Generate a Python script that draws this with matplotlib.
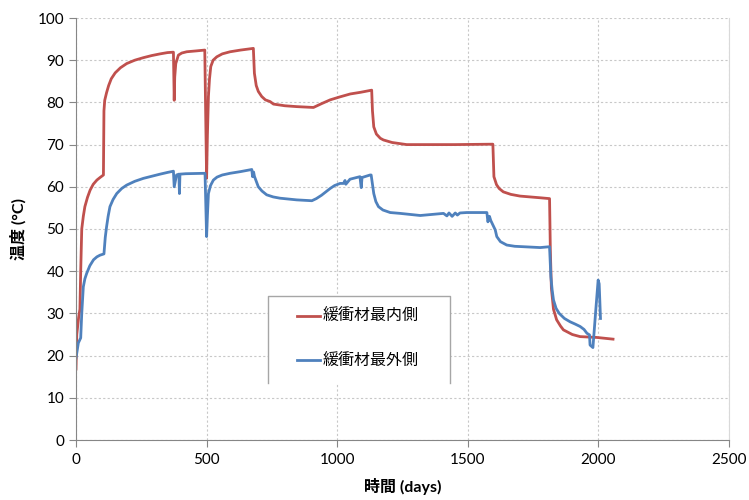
import matplotlib
matplotlib.use('Agg')
import matplotlib.pyplot as plt
from matplotlib.patches import Rectangle

plt.rcParams['font.family'] = ['Lato', 'Noto Sans CJK JP', 'DejaVu Sans']

# series: 緩衝材最内側 (inner)
inner_days = [0, 3, 10, 15, 18, 22, 28, 34, 44, 54, 66, 80, 92, 105,
              107, 110, 117, 125, 135, 150, 170, 194, 225, 258, 290, 322, 350, 373,
              376, 378, 382, 392, 405, 424, 460, 493,
              500, 503, 507, 511, 516, 525, 539, 560, 590, 630, 679,
              683, 690, 698, 711, 725, 743, 756, 800, 845, 909, 940, 973, 1010, 1050, 1090, 1132,
              1135, 1140, 1150, 1165, 1177, 1210, 1266, 1450, 1596,
              1600, 1610, 1620, 1636, 1665, 1700, 1777, 1813,
              1816, 1820, 1828, 1840, 1855, 1866, 1900, 1930, 1994, 2056]
inner_temp = [16.8, 25.0, 29.0, 31.0, 40.0, 50.0, 53.0, 55.3, 57.5, 59.2, 60.6, 61.6, 62.2, 62.8,
              78.0, 80.5, 82.3, 84.0, 85.6, 87.0, 88.2, 89.2, 90.0, 90.6, 91.1, 91.5, 91.8, 91.9,
              80.5, 86.0, 89.2, 91.2, 91.7, 92.0, 92.2, 92.4,
              62.0, 72.0, 81.4, 85.5, 88.5, 90.0, 90.8, 91.5, 92.0, 92.4, 92.8,
              86.9, 84.0, 82.6, 81.4, 80.6, 80.2, 79.6, 79.2, 79.0, 78.8, 79.7, 80.6, 81.3, 82.0, 82.4, 82.9,
              78.0, 74.2, 72.5, 71.5, 71.1, 70.5, 70.0, 70.0, 70.1,
              62.4, 60.5, 59.6, 58.8, 58.2, 57.8, 57.4, 57.2,
              45.0, 36.0, 31.0, 28.5, 27.0, 26.1, 25.0, 24.5, 24.3, 23.9]

# series: 緩衝材最外側 (outer)
outer_days = [0, 9, 18, 22, 28, 34, 41, 53, 67, 80, 92, 107,
              112, 117, 123, 130, 142, 156, 175, 194, 225, 258, 290, 322, 350, 373,
              376, 385, 394, 396, 398, 420, 494,
              500, 503, 507, 515, 526, 540, 560, 590, 630, 673,
              676, 680, 683, 698, 712, 730, 755, 781, 845, 903, 920, 940, 973, 990,
              1011, 1024, 1030, 1033, 1049, 1087, 1092, 1095, 1126, 1130,
              1140, 1148, 1158, 1175, 1203, 1241, 1318, 1407, 1420, 1428, 1440, 1452, 1460, 1470,
              1496, 1573, 1577, 1583, 1588, 1605, 1611, 1625, 1649, 1680, 1713, 1777, 1813,
              1818, 1823, 1828, 1838, 1850, 1870, 1892, 1910, 1930, 1945, 1956, 1966,
              1968, 1979, 1990, 1999, 2003, 2008]
outer_temp = [19.4, 23.0, 24.2, 30.0, 36.3, 38.2, 39.5, 41.3, 42.7, 43.4, 43.8, 44.1,
              48.0, 50.5, 53.0, 55.3, 57.0, 58.4, 59.6, 60.4, 61.3, 62.0, 62.5, 63.0, 63.4, 63.7,
              60.0, 62.8, 63.0, 58.4, 63.0, 63.1, 63.2,
              48.2, 53.0, 58.4, 60.3, 61.6, 62.3, 62.8, 63.2, 63.6, 64.1,
              62.4, 63.5, 62.5, 60.0, 59.0, 58.1, 57.6, 57.3, 56.9, 56.7, 57.2, 58.0, 59.6, 60.3,
              60.8, 60.8, 61.5, 60.6, 61.8, 62.4, 59.8, 62.2, 62.8, 62.8,
              58.4, 56.5, 55.3, 54.5, 53.9, 53.7, 53.2, 53.7, 53.1, 53.8, 53.0, 53.8, 53.3, 53.8,
              53.9, 53.9, 51.7, 53.0, 52.0, 49.8, 48.2, 47.0, 46.2, 45.9, 45.8, 45.6, 45.8,
              38.7, 35.5, 33.2, 31.2, 30.0, 28.8, 28.0, 27.5, 26.9, 26.2, 25.3, 24.9,
              22.5, 21.9, 30.8, 37.9, 37.0, 28.8]

labels = ['緩衝材最内側', '緩衝材最外側']
colors = ['#C0504D', '#4F81BD']

fig = plt.figure(figsize=(7.49, 5.0), dpi=100)
ax = fig.add_axes([76 / 749, 60 / 500, 653 / 749, 422 / 500])

l1, = ax.plot(inner_days, inner_temp, color=colors[0], lw=2, label=labels[0])
l2, = ax.plot(outer_days, outer_temp, color=colors[1], lw=2, label=labels[1])

ax.set_xlim(0, 2500)
ax.set_ylim(0, 100)
ax.set_xticks(range(0, 2501, 500))
ax.set_yticks(range(0, 101, 10))
ax.grid(True, color='#c8c8c8', linestyle=(0, (2, 2)), lw=0.8)
ax.set_axisbelow(True)

for s in ['left', 'bottom']:
    ax.spines[s].set_color('#868686')
ax.spines['top'].set_visible(False)
ax.spines['right'].set_color('#d9d9d9')
ax.tick_params(direction='out', length=5, color='#868686', labelsize=11, labelcolor='black')
ax.tick_params(axis='x', pad=4)

ax.set_xlabel('時間 (days)', fontsize=11.5, fontweight='bold', labelpad=8)
ax.set_ylabel('温度 (°C)', fontsize=11.5, fontweight='bold', labelpad=8)

# legend box (open at bottom, as in the original)
bx0, bx1, by0, by1 = 0.294, 0.573, 0.135, 0.341
ax.add_patch(Rectangle((bx0, by0), bx1 - bx0, by1 - by0, transform=ax.transAxes,
                       facecolor='white', edgecolor='none', zorder=5))
ax.plot([bx0, bx0, bx1, bx1], [by0, by1, by1, by0], transform=ax.transAxes,
        color='#a6a6a6', lw=1, zorder=6, clip_on=False)

leg = ax.legend(handles=[l1, l2], loc='upper left', bbox_to_anchor=(0.338, 0.312),
                frameon=False, borderpad=0, borderaxespad=0, handlelength=1.45,
                handletextpad=0.15, labelspacing=1.7,
                prop={'family': ['Noto Sans CJK JP'], 'size': 11.5})
leg.set_zorder(7)

fig.savefig('out.png', dpi=100)
